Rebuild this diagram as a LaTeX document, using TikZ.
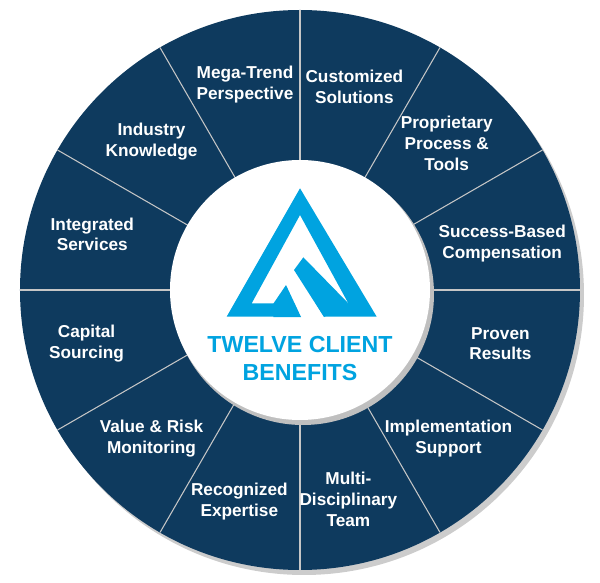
\documentclass[tikz,border=0pt]{standalone}
\usepackage{fontspec}
\setmainfont{Liberation Sans}
\usetikzlibrary{positioning}
\definecolor{navy}{RGB}{14, 58, 94}
\definecolor{logoblue}{RGB}{0, 163, 224}

\begin{document}
\begin{tikzpicture}[
    benefit/.style={text=white, align=center, font=\bfseries\fontsize{9.8}{11.9}\selectfont},
    divider/.style={draw=gray!45, line width=0.6pt}]
    \useasboundingbox (-6,-5.86) rectangle (6,5.8);

    % Ring
    \fill[gray!40] (0.08,-0.1) circle (5.6);
    \fill[navy] (0,0) circle (5.6);
    \foreach \a in {0,30,...,330}
        \draw[divider] (\a:2.5) -- (\a:5.6);
    \fill[gray!50] (0.06,-0.08) circle (2.62);
    \fill[white] (0,0) circle (2.6);

    % Benefits
    \node[benefit] (b1) at (75:4.2) {Customized\\Solutions};
    \node[benefit] (b2) at (45:4.15) {Proprietary\\Process \&\\Tools};
    \node[benefit] (b3) at (13:4.15) {Success-Based\\Compensation};
    \node[benefit] (b4) at (-15:4.15) {Proven\\Results};
    \node[benefit] (b5) at (-45:4.2) {Implementation\\Support};
    \node[benefit] (b6) at (-77:4.3) {Multi-\\Disciplinary\\Team};
    \node[benefit] (b7) at (-106:4.4) {Recognized\\Expertise};
    \node[benefit] (b8) at (-135:4.2) {Value \& Risk\\Monitoring};
    \node[benefit] (b9) at (-166:4.4) {Capital\\Sourcing};
    \node[benefit] (b10) at (165:4.3) {Integrated\\Services};
    \node[benefit] (b11) at (135:4.2) {Industry\\Knowledge};
    \node[benefit] (b12) at (105:4.25) {Mega-Trend\\Perspective};

    % Logo
    \begin{scope}[shift={(-2.4,2.4)}, x=0.006667cm, y=-0.006667cm]
        \fill[logoblue, even odd rule] (360,55) -- (590,440) -- (140,440) -- cycle
            (360,135) -- (505,400) -- (215,400) -- cycle;
        \fill[white] (343,399) -- (362,441) -- (432,441) -- (406,399) -- cycle;
        \fill[logoblue] (280,401) -- (318,345) -- (363,441) -- (280,441) -- cycle;
        \fill[logoblue] (342,300) -- (370,262) -- (505,400) -- (432,441) -- cycle;
    \end{scope}
    \node[text=logoblue, align=center, font=\bfseries\fontsize{13.2}{16.4}\selectfont]
        (title) at (0,-1.37) {TWELVE CLIENT\\BENEFITS};
\end{tikzpicture}
\end{document}
